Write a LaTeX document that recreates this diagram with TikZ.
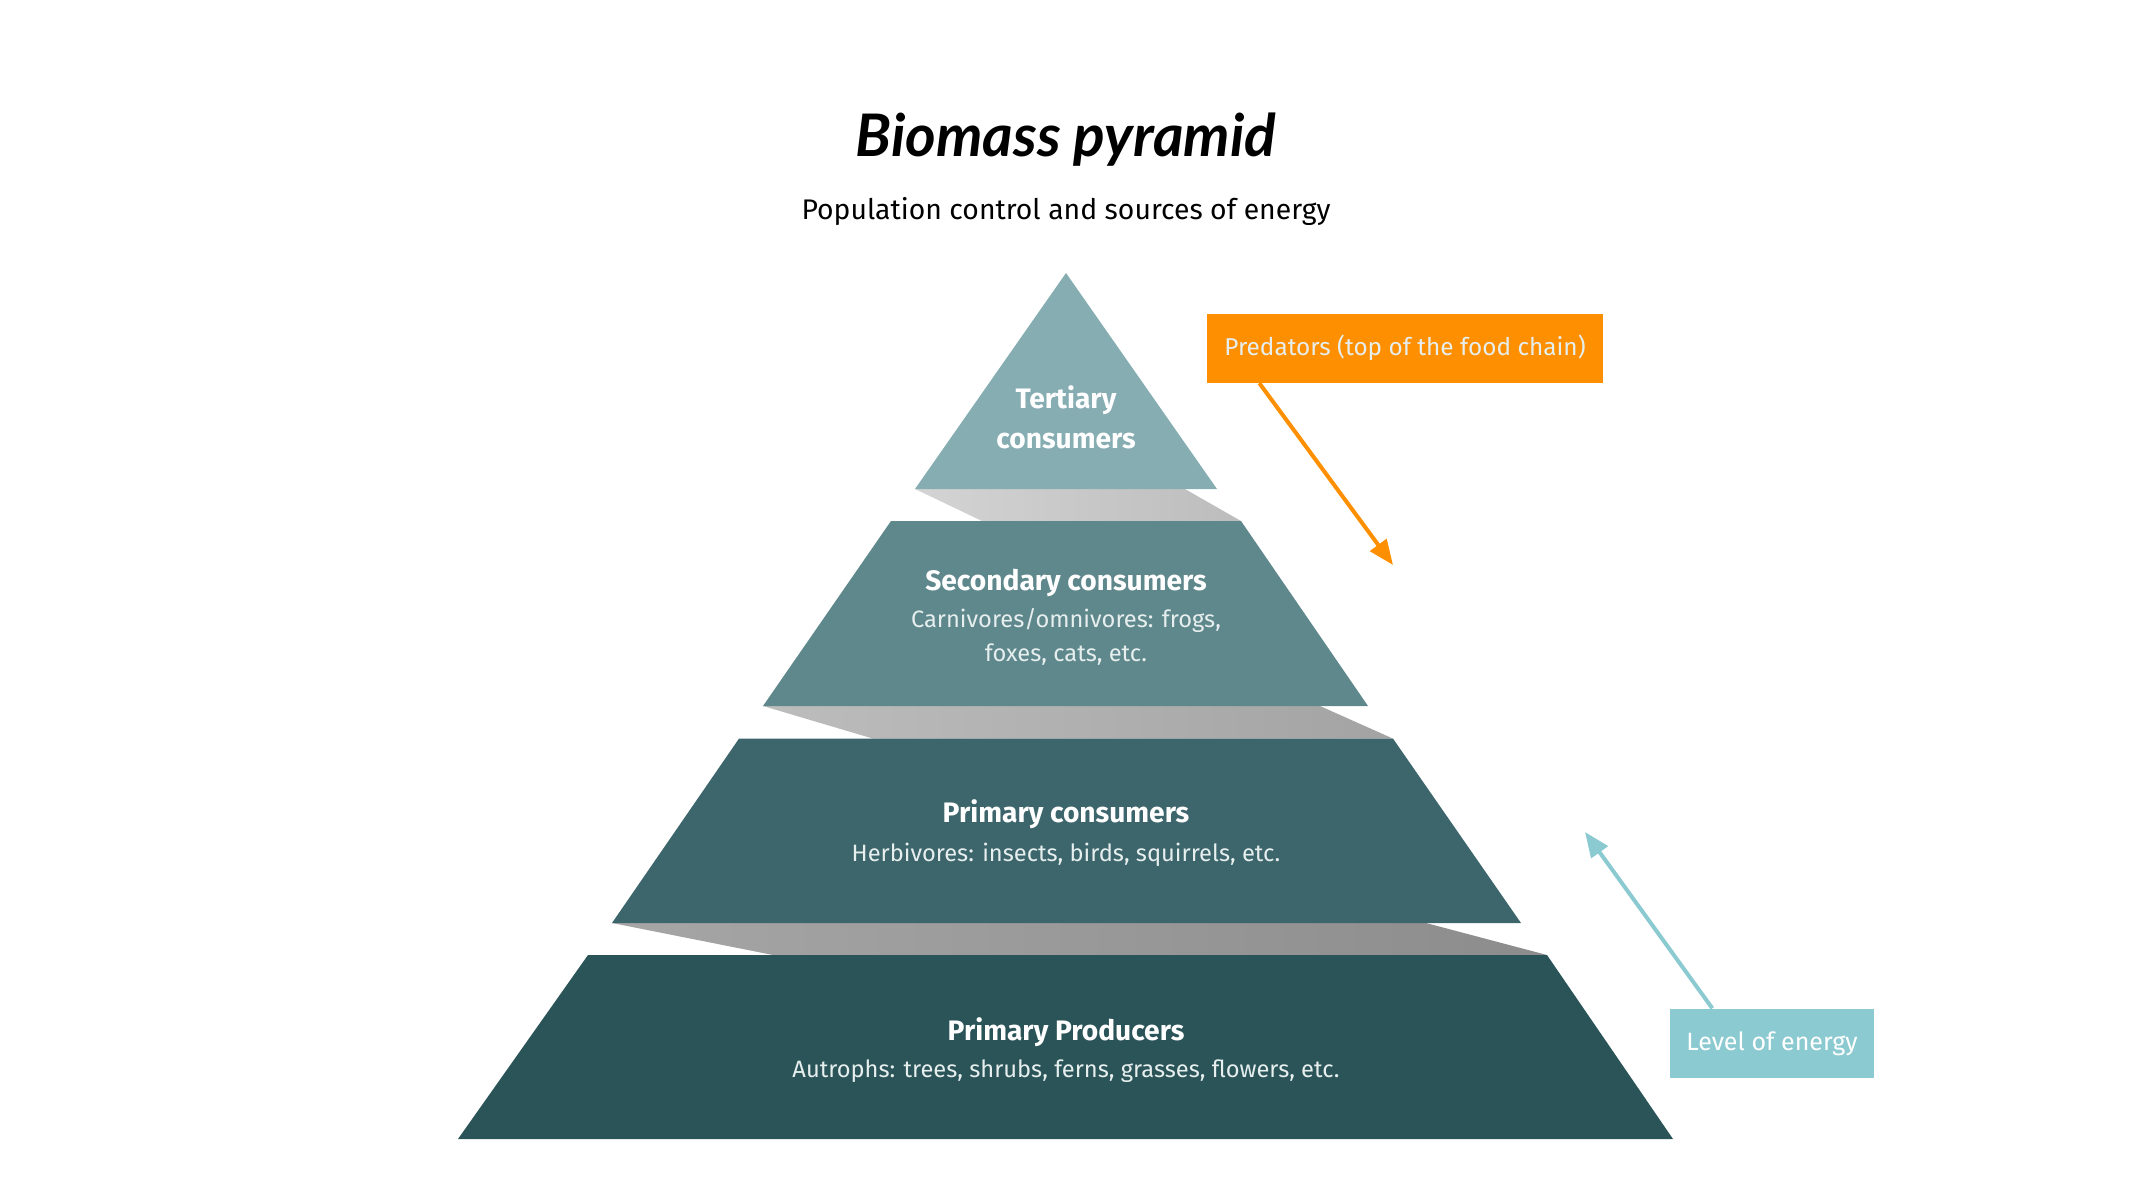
\documentclass[tikz,border=0pt]{standalone}
\usepackage{fontspec}
\setmainfont{Fira Sans}
\newfontfamily\titlefont{Lato}
\usetikzlibrary{arrows.meta,calc}

\definecolor{tertcol}{HTML}{86ADB2}
\definecolor{seccol}{HTML}{5F888D}
\definecolor{primcol}{HTML}{3D666C}
\definecolor{prodcol}{HTML}{2A5458}
\definecolor{predcol}{HTML}{FD8F00}
\definecolor{energycol}{HTML}{8CCAD1}
\definecolor{subtext}{HTML}{E6EEEE}

\tikzset{
  lvltitle/.style={anchor=base, text=white, font=\fontsize{8.45}{10}\selectfont\bfseries},
  lvlsub/.style={anchor=base, text=subtext, font=\fontsize{7.1}{9}\selectfont},
  callout/.style={minimum height=20.7pt, inner sep=0pt, text=#1, font=\fontsize{7.5}{9}\selectfont},
  pointer/.style={line width=1.2pt, -{Triangle[length=7.5pt, width=6pt]}}
}

\begin{document}
\begin{tikzpicture}[x=0.3pt, y=-0.3pt]
  \useasboundingbox (0,0) rectangle (2133,1200);
  % heading
  \node[anchor=base, font=\titlefont\fontsize{17.6}{20}\selectfont\bfseries\itshape] (title) at (1066,156) {Biomass pyramid};
  \node[anchor=base, font=\fontsize{8.5}{10}\selectfont] (subtitle) at (1066,219) {Population control and sources of energy};

  % grey twist between the levels
  \foreach \ya/\yb/\xa/\xb/\xc/\xd/\ca/\cb in {
      489/521/915/1185/1241/982/black!17/black!26,
      706/738.6/763/1320/1393/873/black!26/black!36,
      923/955/612/1426/1547/773/black!35/black!45} {
    \shade[left color=\ca, right color=\cb] (\xa,\ya) -- (\xb,\ya) -- (\xc,\yb) -- (\xd,\yb) -- cycle;
  }
  % levels
  \fill[tertcol] (1066,273) -- (1217,489) -- (915,489) -- cycle;
  \foreach \ya/\yb/\xa/\xb/\xc/\xd/\col in {
      521/706/891/1241/1368/763/seccol,
      738.6/923/739/1393/1521/612/primcol,
      955/1139/588/1547/1673/458/prodcol} {
    \fill[\col] (\xa,\ya) -- (\xb,\ya) -- (\xc,\yb) -- (\xd,\yb) -- cycle;
  }

  % level texts
  \node[lvltitle] (tert) at (1066,408) {Tertiary};
  \node[lvltitle] (tert2) at (1066,448) {consumers};
  \node[lvltitle] (sec) at (1066,590) {Secondary consumers};
  \node[lvlsub] (secsub) at (1066,627) {Carnivores/omnivores: frogs,};
  \node[lvlsub] (secsub2) at (1066,661) {foxes, cats, etc.};
  \node[lvltitle] (prim) at (1066,822) {Primary consumers};
  \node[lvlsub] (primsub) at (1066,861) {Herbivores: insects, birds, squirrels, etc.};
  \node[lvltitle] (prod) at (1066,1040) {Primary Producers};
  \node[lvlsub] (prodsub) at (1066,1077) {Autrophs: trees, shrubs, ferns, grasses, flowers, etc.};

  % callouts
  \node[callout=subtext, fill=predcol, minimum width=118.8pt, font=\fontsize{7.3}{9}\selectfont] (pred) at (1405,348) {Predators (top of the food chain)};
  \node[callout=white, fill=energycol, minimum width=61.2pt] (energy) at (1772,1043.5) {Level of energy};
  \coordinate (predtip) at (1393,565);
  \coordinate (energytip) at (1585,832);
  \draw[pointer, predcol] ($(pred.south west)+(53,0)$) -- (predtip);
  \draw[pointer, energycol] ($(energy.north west)+(43,0)$) -- (energytip);
\end{tikzpicture}
\end{document}
